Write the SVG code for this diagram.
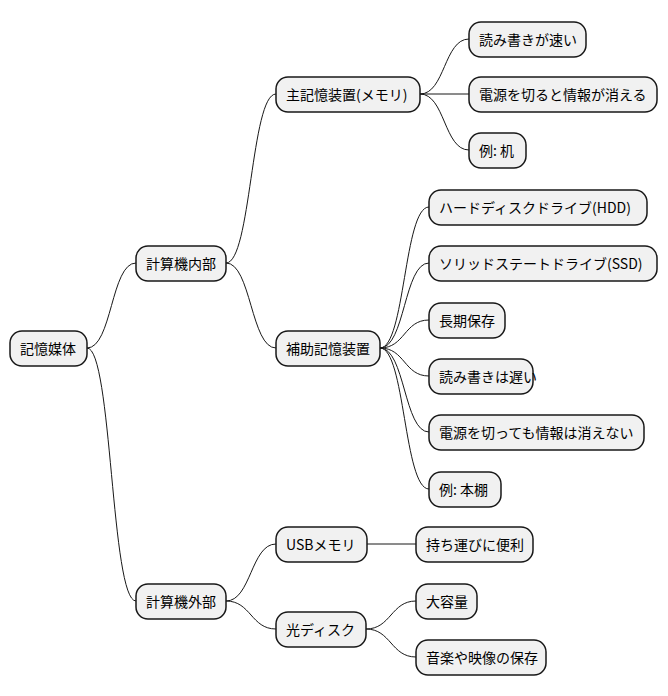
<svg xmlns="http://www.w3.org/2000/svg" width="668" height="696" viewBox="0 0 668 696">
<style>
.n rect{fill:#F1F1F1;stroke:#181818;stroke-width:1.5}
.n text{font-family:"Noto Sans CJK JP","Noto Sans",sans-serif;font-size:14px;fill:#000;dominant-baseline:central}
#c path{fill:none;stroke:#181818;stroke-width:1}
</style>
<rect width="668" height="696" fill="#fff"/>
<g id="c">
<path d="M87 348 C112 348,111 263,136 263"/>
<path d="M87 348 C112 348,111 601,136 601"/>
<path d="M226 263 C251 263,251 94,276 94"/>
<path d="M226 263 C251 263,251 348,276 348"/>
<path d="M226 601 C251 601,251 544,276 544"/>
<path d="M226 601 C251 601,251 629,276 629"/>
<path d="M420 94 C445 94,444 39,469 39"/>
<path d="M420 94 L469 94"/>
<path d="M420 94 C445 94,444 150,469 150"/>
<path d="M380 348 C405 348,404 207,429 207"/>
<path d="M380 348 C405 348,404 263,429 263"/>
<path d="M380 348 C405 348,404 320,429 320"/>
<path d="M380 348 C405 348,404 376,429 376"/>
<path d="M380 348 C405 348,404 432,429 432"/>
<path d="M380 348 C405 348,404 489,429 489"/>
<path d="M367 544 L416 544"/>
<path d="M366 629 C391 629,391 601,416 601"/>
<path d="M366 629 C391 629,391 657,416 657"/>
</g>
<g id="n1" class="n"><rect x="10" y="331" width="77" height="35" rx="12"/><text x="20" y="348">記憶媒体</text></g>
<g id="n2" class="n"><rect x="136" y="246" width="90" height="35" rx="12"/><text x="146" y="263">計算機内部</text></g>
<g id="n3" class="n"><rect x="136" y="584" width="90" height="35" rx="12"/><text x="146" y="601">計算機外部</text></g>
<g id="n4" class="n"><rect x="276" y="77" width="144" height="35" rx="12"/><text x="286" y="94">主記憶装置(メモリ)</text></g>
<g id="n5" class="n"><rect x="276" y="331" width="104" height="35" rx="12"/><text x="286" y="348">補助記憶装置</text></g>
<g id="n6" class="n"><rect x="276" y="527" width="91" height="35" rx="12"/><text x="286" y="544">USBメモリ</text></g>
<g id="n7" class="n"><rect x="276" y="612" width="90" height="35" rx="12"/><text x="286" y="629">光ディスク</text></g>
<g id="n8" class="n"><rect x="469" y="22" width="117" height="35" rx="12"/><text x="479" y="39">読み書きが速い</text></g>
<g id="n9" class="n"><rect x="469" y="77" width="188" height="35" rx="12"/><text x="479" y="94">電源を切ると情報が消える</text></g>
<g id="n10" class="n"><rect x="469" y="133" width="57" height="35" rx="12"/><text x="479" y="150">例: 机</text></g>
<g id="n11" class="n"><rect x="429" y="190" width="218" height="35" rx="12"/><text x="439" y="207">ハードディスクドライブ(HDD)</text></g>
<g id="n12" class="n"><rect x="429" y="246" width="228" height="35" rx="12"/><text x="439" y="263">ソリッドステートドライブ(SSD)</text></g>
<g id="n13" class="n"><rect x="429" y="303" width="76" height="35" rx="12"/><text x="439" y="320">長期保存</text></g>
<g id="n14" class="n"><rect x="429" y="359" width="104" height="35" rx="12"/><text x="439" y="376">読み書きは遅い</text></g>
<g id="n15" class="n"><rect x="429" y="415" width="215" height="35" rx="12"/><text x="439" y="432">電源を切っても情報は消えない</text></g>
<g id="n16" class="n"><rect x="429" y="472" width="72" height="35" rx="12"/><text x="439" y="489">例: 本棚</text></g>
<g id="n17" class="n"><rect x="416" y="527" width="117" height="35" rx="12"/><text x="426" y="544">持ち運びに便利</text></g>
<g id="n18" class="n"><rect x="416" y="584" width="61" height="35" rx="12"/><text x="426" y="601">大容量</text></g>
<g id="n19" class="n"><rect x="416" y="640" width="130" height="35" rx="12"/><text x="426" y="657">音楽や映像の保存</text></g>
</svg>
